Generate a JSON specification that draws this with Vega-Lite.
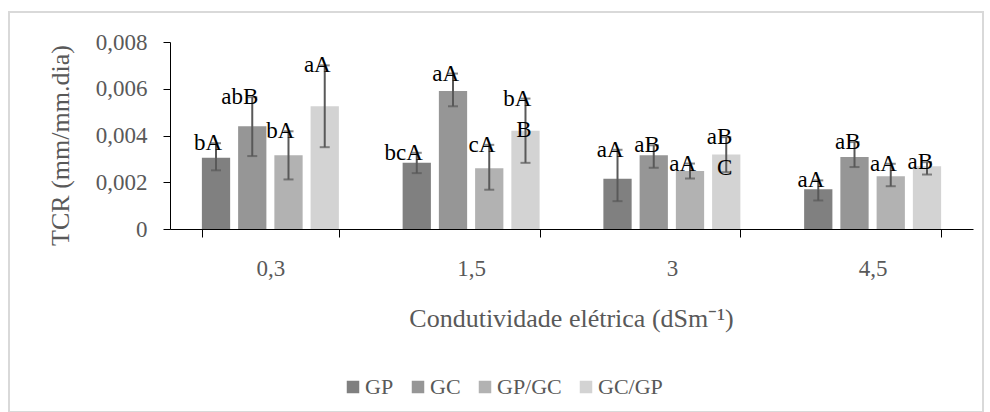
{
  "$schema": "https://vega.github.io/schema/vega-lite/v6.json",
  "width": 974,
  "height": 400,
  "autosize": {"type": "none"},
  "padding": {"left": 9, "top": 12, "right": 7, "bottom": 0},
  "background": "white",
  "config": {
    "font": "Liberation Serif",
    "view": {"stroke": "#d9d9d9", "strokeWidth": 2}
  },
  "data": {
    "values": [
      {"ce": "0,3", "grupo": "GP", "tcr": 0.00305, "min": 0.00251, "max": 0.00367, "letra": "bA", "letra2": ""},
      {"ce": "0,3", "grupo": "GC", "tcr": 0.0044, "min": 0.00312, "max": 0.00564, "letra": "abB", "letra2": ""},
      {"ce": "0,3", "grupo": "GP/GC", "tcr": 0.00315, "min": 0.00212, "max": 0.00418, "letra": "bA", "letra2": ""},
      {"ce": "0,3", "grupo": "GC/GP", "tcr": 0.00525, "min": 0.0035, "max": 0.007, "letra": "aA", "letra2": ""},
      {"ce": "1,5", "grupo": "GP", "tcr": 0.00283, "min": 0.00239, "max": 0.00326, "letra": "bcA", "letra2": ""},
      {"ce": "1,5", "grupo": "GC", "tcr": 0.0059, "min": 0.00525, "max": 0.00665, "letra": "aA", "letra2": ""},
      {"ce": "1,5", "grupo": "GP/GC", "tcr": 0.0026, "min": 0.00168, "max": 0.0036, "letra": "cA", "letra2": ""},
      {"ce": "1,5", "grupo": "GC/GP", "tcr": 0.0042, "min": 0.00283, "max": 0.00558, "letra": "bA", "letra2": "B"},
      {"ce": "3", "grupo": "GP", "tcr": 0.00215, "min": 0.00119, "max": 0.00339, "letra": "aA", "letra2": ""},
      {"ce": "3", "grupo": "GC", "tcr": 0.00315, "min": 0.00262, "max": 0.00358, "letra": "aB", "letra2": ""},
      {"ce": "3", "grupo": "GP/GC", "tcr": 0.00248, "min": 0.00216, "max": 0.0028, "letra": "aA", "letra2": ""},
      {"ce": "3", "grupo": "GC/GP", "tcr": 0.00319, "min": 0.00243, "max": 0.00393, "letra": "aB", "letra2": "C"},
      {"ce": "4,5", "grupo": "GP", "tcr": 0.0017, "min": 0.00122, "max": 0.00208, "letra": "aA", "letra2": ""},
      {"ce": "4,5", "grupo": "GC", "tcr": 0.00308, "min": 0.00265, "max": 0.00372, "letra": "aB", "letra2": ""},
      {"ce": "4,5", "grupo": "GP/GC", "tcr": 0.00226, "min": 0.00183, "max": 0.00279, "letra": "aA", "letra2": ""},
      {"ce": "4,5", "grupo": "GC/GP", "tcr": 0.00268, "min": 0.00233, "max": 0.00286, "letra": "aB", "letra2": ""}
    ]
  },
  "encoding": {
    "x": {
      "field": "ce",
      "type": "nominal",
      "sort": ["0,3", "1,5", "3", "4,5"],
      "scale": {"range": [161, 964], "paddingInner": 0.3176, "paddingOuter": 0.1588},
      "axis": {
        "title": "Condutividade elétrica (dSm⁻¹)",
        "offset": -183,
        "tickBand": "extent",
        "tickSize": 8,
        "tickColor": "#000000",
        "domainColor": "#000000",
        "labelAngle": 0,
        "labelBaseline": "middle",
        "labelPadding": 31,
        "labelFont": "Liberation Serif",
        "labelFontSize": 23,
        "labelColor": "#595959",
        "titleFont": "Liberation Serif",
        "titleFontSize": 26,
        "titleFontWeight": "normal",
        "titleColor": "#595959",
        "titleX": 562,
        "titleY": 89,
        "titleAlign": "center",
        "titleBaseline": "middle"
      }
    },
    "xOffset": {
      "field": "grupo",
      "type": "nominal",
      "sort": ["GP", "GC", "GP/GC", "GC/GP"],
      "scale": {"paddingInner": 0.22, "paddingOuter": 0}
    }
  },
  "layer": [
    {
      "mark": {"type": "bar"},
      "encoding": {
        "y": {
          "field": "tcr",
          "type": "quantitative",
          "title": "TCR (mm/mm.dia)",
          "scale": {"domain": [0, 0.008], "range": [217, 30], "nice": false},
          "axis": {
            "values": [0, 0.002, 0.004, 0.006, 0.008],
            "format": ".3~f",
            "labelExpr": "replace(datum.label, '.', ',')",
            "grid": false,
            "offset": -161,
            "tickSize": 7,
            "tickColor": "#000000",
            "domainColor": "#000000",
            "labelPadding": 16,
            "labelFont": "Liberation Serif",
            "labelFontSize": 23,
            "labelColor": "#595959",
            "titleFont": "Liberation Serif",
            "titleFontSize": 26,
            "titleFontWeight": "normal",
            "titleColor": "#595959",
            "titleX": -110,
            "titleY": 133,
            "titleAngle": -90,
            "titleAlign": "center",
            "titleBaseline": "middle"
          }
        },
        "color": {
          "field": "grupo",
          "type": "nominal",
          "sort": ["GP", "GC", "GP/GC", "GC/GP"],
          "scale": {"domain": ["GP", "GC", "GP/GC", "GC/GP"], "range": ["#808080", "#969696", "#b2b2b2", "#d3d3d3"]},
          "legend": {
            "title": null,
            "orient": "none",
            "legendX": 333,
            "legendY": 364,
            "direction": "horizontal",
            "symbolType": "square",
            "symbolSize": 156,
            "symbolStrokeWidth": 0,
            "labelFont": "Liberation Serif",
            "labelFontSize": 22,
            "labelColor": "#595959",
            "labelOffset": 1,
            "columnPadding": 13,
            "padding": 0
          }
        }
      }
    },
    {
      "mark": {"type": "rule", "color": "#595959", "strokeWidth": 2},
      "encoding": {
        "y": {"field": "min", "type": "quantitative", "title": "TCR (mm/mm.dia)"},
        "y2": {"field": "max"}
      }
    },
    {
      "mark": {"type": "tick", "color": "#595959", "thickness": 2, "size": 10, "orient": "horizontal"},
      "encoding": {
        "y": {"field": "max", "type": "quantitative", "title": "TCR (mm/mm.dia)"}
      }
    },
    {
      "mark": {"type": "tick", "color": "#595959", "thickness": 2, "size": 10, "orient": "horizontal"},
      "encoding": {
        "y": {"field": "min", "type": "quantitative", "title": "TCR (mm/mm.dia)"}
      }
    },
    {
      "mark": {"type": "text", "align": "right", "dx": 6, "baseline": "middle", "font": "Liberation Serif", "fontSize": 23, "color": "#000000"},
      "encoding": {
        "y": {"field": "max", "type": "quantitative", "title": "TCR (mm/mm.dia)"},
        "text": {"field": "letra", "type": "nominal"}
      }
    },
    {
      "mark": {"type": "text", "align": "right", "dx": 6, "dy": 31, "baseline": "middle", "font": "Liberation Serif", "fontSize": 23, "color": "#000000"},
      "encoding": {
        "y": {"field": "max", "type": "quantitative", "title": "TCR (mm/mm.dia)"},
        "text": {"field": "letra2", "type": "nominal"}
      }
    }
  ]
}
